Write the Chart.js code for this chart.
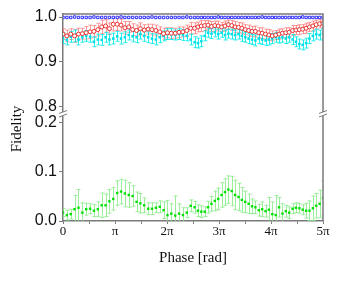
<!DOCTYPE html>
<html>
<head>
<meta charset="utf-8">
<script src="https://cdn.jsdelivr.net/npm/chart.js@4.4.1/dist/chart.umd.min.js"></script>
<style>
  body { margin: 0; background: #fff; }
  #wrap { width: 338px; height: 281px; position: relative; }
</style>
</head>
<body>
<div id="wrap"><canvas id="chartFidelity"></canvas></div>
<script>
// phase in units of pi
const phase = [
    0, 0.074, 0.149, 0.223, 0.298, 0.372, 0.446, 0.521, 0.595, 0.670,
    0.744, 0.818, 0.893, 0.967, 1.042, 1.116, 1.190, 1.265, 1.339, 1.414,
    1.488, 1.562, 1.637, 1.711, 1.786, 1.860, 1.934, 2.009, 2.083, 2.158,
    2.232, 2.306, 2.381, 2.455, 2.530, 2.595, 2.660, 2.725, 2.790, 2.855,
    2.920, 2.985, 3.050, 3.115, 3.180, 3.245, 3.310, 3.375, 3.440, 3.505,
    3.570, 3.635, 3.700, 3.765, 3.830, 3.895, 3.960, 4.025, 4.090, 4.155,
    4.220, 4.285, 4.350, 4.415, 4.480, 4.545, 4.610, 4.675, 4.740, 4.805,
    4.870, 4.935, 5.000,
];

const blue = [
    0.999, 0.999, 0.999, 1.000, 0.999, 0.999, 0.999, 0.999, 1.000, 0.999,
    0.999, 0.999, 0.999, 0.999, 0.999, 1.000, 0.999, 0.999, 0.999, 0.999,
    0.999, 0.999, 0.999, 1.000, 0.999, 0.999, 0.999, 0.999, 0.999, 0.999,
    0.999, 0.999, 1.000, 0.999, 0.999, 0.999, 0.999, 0.999, 0.999, 0.999,
    0.999, 1.000, 0.999, 0.999, 0.999, 0.999, 0.999, 0.999, 0.999, 0.999,
    0.999, 0.999, 0.999, 0.999, 1.000, 0.999, 0.999, 0.999, 0.999, 0.999,
    0.999, 0.999, 0.999, 0.999, 0.999, 0.999, 1.000, 0.999, 0.999, 0.999,
    0.999, 0.999, 0.999,
];

const red = [
    0.962, 0.958, 0.962, 0.958, 0.962, 0.963, 0.965, 0.967, 0.968, 0.972,
    0.978, 0.980, 0.974, 0.984, 0.984, 0.982, 0.976, 0.978, 0.972, 0.970,
    0.974, 0.971, 0.973, 0.972, 0.970, 0.967, 0.963, 0.965, 0.964, 0.964,
    0.966, 0.967, 0.970, 0.975, 0.975, 0.978, 0.980, 0.981, 0.982, 0.979,
    0.981, 0.980, 0.978, 0.980, 0.983, 0.981, 0.978, 0.977, 0.975, 0.972,
    0.970, 0.968, 0.968, 0.965, 0.964, 0.962, 0.960, 0.958, 0.960, 0.962,
    0.964, 0.965, 0.966, 0.970, 0.971, 0.972, 0.973, 0.975, 0.978, 0.980,
    0.983, 0.985, 0.986,
];
const redErr = [
    0.012, 0.013, 0.012, 0.014, 0.013, 0.012, 0.014, 0.015, 0.013, 0.014,
    0.015, 0.014, 0.013, 0.015, 0.014, 0.013, 0.014, 0.012, 0.013, 0.012,
    0.013, 0.012, 0.011, 0.012, 0.012, 0.011, 0.012, 0.011, 0.012, 0.011,
    0.012, 0.011, 0.012, 0.013, 0.012, 0.011, 0.012, 0.011, 0.010, 0.011,
    0.010, 0.011, 0.010, 0.011, 0.010, 0.011, 0.012, 0.011, 0.012, 0.011,
    0.012, 0.011, 0.012, 0.011, 0.012, 0.011, 0.012, 0.011, 0.010, 0.011,
    0.010, 0.011, 0.010, 0.011, 0.010, 0.011, 0.010, 0.011, 0.010, 0.011,
    0.010, 0.009, 0.008,
];

const cyan = [
    0.953, 0.949, 0.956, 0.958, 0.950, 0.955, 0.958, 0.956, 0.945, 0.950,
    0.949, 0.955, 0.950, 0.952, 0.957, 0.952, 0.955, 0.960, 0.957, 0.955,
    0.962, 0.958, 0.955, 0.952, 0.950, 0.955, 0.958, 0.962, 0.962, 0.960,
    0.962, 0.960, 0.958, 0.950, 0.944, 0.942, 0.946, 0.958, 0.965, 0.963,
    0.966, 0.962, 0.965, 0.960, 0.963, 0.962, 0.960, 0.962, 0.958, 0.955,
    0.952, 0.950, 0.948, 0.952, 0.950, 0.948, 0.950, 0.952, 0.955, 0.953,
    0.955, 0.952, 0.955, 0.950, 0.945, 0.940, 0.938, 0.942, 0.952, 0.958,
    0.962, 0.960, 0.963,
];
const cyanErr = [
    0.012, 0.011, 0.012, 0.013, 0.012, 0.011, 0.012, 0.012, 0.011, 0.012,
    0.012, 0.011, 0.012, 0.012, 0.011, 0.012, 0.012, 0.011, 0.012, 0.012,
    0.011, 0.012, 0.012, 0.011, 0.012, 0.012, 0.011, 0.012, 0.012, 0.011,
    0.012, 0.012, 0.011, 0.012, 0.012, 0.011, 0.012, 0.011, 0.010, 0.011,
    0.010, 0.011, 0.010, 0.011, 0.010, 0.011, 0.011, 0.011, 0.012, 0.011,
    0.011, 0.011, 0.012, 0.011, 0.011, 0.011, 0.012, 0.011, 0.011, 0.011,
    0.011, 0.011, 0.011, 0.011, 0.011, 0.011, 0.011, 0.011, 0.011, 0.011,
    0.011, 0.011, 0.011,
];

const green = [
    0.017, 0.012, 0.014, 0.024, 0.027, 0.017, 0.024, 0.025, 0.021, 0.024,
    0.032, 0.032, 0.040, 0.045, 0.057, 0.060, 0.056, 0.053, 0.051, 0.039,
    0.036, 0.032, 0.025, 0.025, 0.027, 0.029, 0.022, 0.012, 0.015, 0.011,
    0.015, 0.012, 0.017, 0.031, 0.028, 0.021, 0.019, 0.019, 0.028, 0.035,
    0.041, 0.045, 0.053, 0.059, 0.064, 0.061, 0.053, 0.049, 0.043, 0.039,
    0.035, 0.030, 0.028, 0.022, 0.024, 0.020, 0.023, 0.014, 0.012, 0.028,
    0.015, 0.020, 0.017, 0.025, 0.027, 0.026, 0.023, 0.021, 0.021, 0.026,
    0.031, 0.035, 0.047,
];
const greenErr = [
    0.008, 0.010, 0.010, 0.028, 0.037, 0.020, 0.012, 0.010, 0.012, 0.015,
    0.025, 0.023, 0.024, 0.023, 0.025, 0.025, 0.027, 0.025, 0.021, 0.020,
    0.020, 0.015, 0.012, 0.012, 0.010, 0.012, 0.017, 0.030, 0.020, 0.040,
    0.020, 0.015, 0.010, 0.012, 0.012, 0.012, 0.012, 0.010, 0.012, 0.015,
    0.020, 0.022, 0.025, 0.027, 0.028, 0.030, 0.030, 0.028, 0.025, 0.022,
    0.020, 0.015, 0.013, 0.012, 0.015, 0.012, 0.025, 0.025, 0.040, 0.020,
    0.020, 0.012, 0.012, 0.010, 0.010, 0.010, 0.010, 0.015, 0.020, 0.025,
    0.025, 0.028, 0.035,
];

const phaseLabels = ["0", "π", "2π", "3π", "4π", "5π"];
const upperTicks = [0.8, 0.85, 0.9, 0.95, 1.0];
const lowerTicks = [0, 0.05, 0.1, 0.15, 0.2];
const majorTicks = [0, 0.1, 0.2, 0.8, 0.9, 1.0];

const axisColor = "#7a7a7a";
const textColor = "#111111";

function points(ys) {
    return ys.map((y, i) => ({ x: phase[i], y }));
}

// vertical error bars with small caps, clipped to the dataset's own axis
const errorBars = {
    id: "errorBars",
    beforeDatasetsDraw(chart) {
        const ctx = chart.ctx;
        const xs = chart.scales.x;
        chart.data.datasets.forEach((ds) => {
            if (!ds.errors) return;
            const ys = chart.scales[ds.yAxisID];
            ctx.save();
            ctx.beginPath();
            ctx.rect(xs.left, ys.top, xs.right - xs.left, ys.bottom - ys.top);
            ctx.clip();
            ctx.strokeStyle = ds.errorColor;
            ctx.lineWidth = 1;
            ds.data.forEach((p, i) => {
                const e = ds.errors[i];
                const x = Math.round(xs.getPixelForValue(p.x)) + 0.5;
                const y1 = ys.getPixelForValue(p.y - e);
                const y2 = ys.getPixelForValue(p.y + e);
                ctx.beginPath();
                ctx.moveTo(x, y1);
                ctx.lineTo(x, y2);
                ctx.moveTo(x - 2, y1);
                ctx.lineTo(x + 2, y1);
                ctx.moveTo(x - 2, y2);
                ctx.lineTo(x + 2, y2);
                ctx.stroke();
            });
            ctx.restore();
        });
    },
};

// frame on top/right, axis break marks, y title
const frame = {
    id: "frame",
    afterDraw(chart) {
        const { ctx, chartArea } = chart;
        const j = chart.scales.y.bottom;
        ctx.save();
        ctx.strokeStyle = axisColor;
        ctx.lineWidth = 1.5;
        ctx.beginPath();
        ctx.moveTo(chartArea.left, chartArea.top);
        ctx.lineTo(chartArea.right, chartArea.top);
        ctx.lineTo(chartArea.right, chartArea.bottom);
        ctx.stroke();

        [chartArea.left, chartArea.right].forEach((x) => {
            ctx.fillStyle = "#fff";
            ctx.fillRect(x - 2, j - 2, 4, 4);
            ctx.lineWidth = 1;
            ctx.beginPath();
            ctx.moveTo(x - 4, j - 0.5);
            ctx.lineTo(x + 4, j - 3.5);
            ctx.moveTo(x - 4, j + 3);
            ctx.lineTo(x + 4, j);
            ctx.stroke();
        });

        ctx.translate(17, chartArea.top + 115);
        ctx.rotate(-Math.PI / 2);
        ctx.fillStyle = textColor;
        ctx.font = "15px 'Liberation Serif'";
        ctx.textAlign = "center";
        ctx.textBaseline = "middle";
        ctx.fillText("Fidelity", 0, 0);
        ctx.restore();
    },
};

const yCommon = {
    type: "linear",
    position: "left",
    stack: "fidelity",
    grid: { drawOnChartArea: false, tickLength: 4, color: axisColor },
    border: { color: axisColor, width: 1.5 },
    ticks: {
        color: textColor,
        padding: 2,
        font: { family: "'Liberation Sans'", size: 16 },
        callback: (v) => (majorTicks.includes(v) ? v.toFixed(1) : ""),
    },
    afterFit: (scale) => {
        scale.width = 59;
    },
};

new Chart(document.getElementById("chartFidelity"), {
    type: "scatter",
    data: {
        datasets: [
            {
                label: "blue",
                data: points(blue),
                yAxisID: "y",
                pointStyle: "rect",
                pointRadius: 1.7,
                borderWidth: 1,
                borderColor: "#2f2fff",
                backgroundColor: "#ffffff",
            },
            {
                label: "red",
                data: points(red),
                errors: redErr,
                errorColor: "rgba(255, 120, 120, 0.75)",
                yAxisID: "y",
                pointStyle: "circle",
                pointRadius: 2,
                borderWidth: 1,
                borderColor: "#e83030",
                backgroundColor: "#ffffff",
            },
            {
                label: "cyan",
                data: points(cyan),
                errors: cyanErr,
                errorColor: "rgba(0, 235, 235, 0.85)",
                yAxisID: "y",
                pointStyle: "rect",
                pointRadius: 1.8,
                borderWidth: 0,
                backgroundColor: "#00dfe6",
            },
            {
                label: "green",
                data: points(green),
                errors: greenErr,
                errorColor: "rgba(130, 235, 130, 0.8)",
                yAxisID: "y2",
                pointStyle: "rect",
                pointRadius: 1.7,
                borderWidth: 0,
                backgroundColor: "#00e000",
            },
        ],
    },
    options: {
        responsive: true,
        maintainAspectRatio: false,
        animation: false,
        layout: { padding: { left: 4, right: 15, top: 14, bottom: 8 } },
        plugins: {
            legend: { display: false },
            tooltip: { enabled: false },
        },
        scales: {
            x: {
                type: "linear",
                min: 0,
                max: 5,
                grid: { drawOnChartArea: false, tickLength: 3, color: axisColor },
                border: { color: axisColor, width: 1.5 },
                ticks: {
                    stepSize: 0.5,
                    autoSkip: false,
                    maxRotation: 0,
                    padding: 0,
                    color: textColor,
                    font: { family: "'Liberation Serif'", size: 13 },
                    callback: (v) =>
                        Number.isInteger(v) ? phaseLabels[v] : "",
                },
                title: {
                    display: true,
                    text: "Phase [rad]",
                    color: textColor,
                    font: { family: "'Liberation Serif'", size: 15 },
                    padding: { top: 0, bottom: 6 },
                },
                afterFit: (scale) => {
                    scale.height = 52;
                },
            },
            // lower segment first: stacked axes fill from the bottom up
            y2: {
                ...yCommon,
                min: 0,
                max: 0.218,
                stackWeight: 107,
                afterBuildTicks: (scale) => {
                    scale.ticks = lowerTicks.map((v) => ({ value: v }));
                },
            },
            y: {
                ...yCommon,
                min: 0.7844,
                max: 1.0067,
                stackWeight: 100,
                afterBuildTicks: (scale) => {
                    scale.ticks = upperTicks.map((v) => ({ value: v }));
                },
            },
        },
    },
    plugins: [errorBars, frame],
});
</script>
</body>
</html>
